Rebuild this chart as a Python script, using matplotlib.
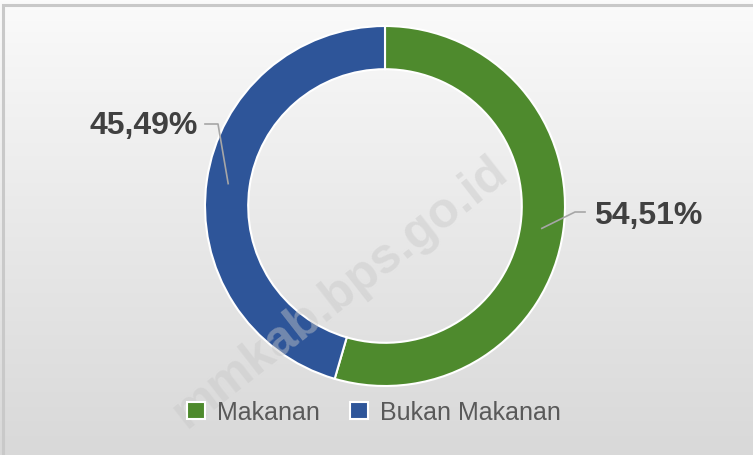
import numpy as np
import matplotlib
matplotlib.use("Agg")
import matplotlib.pyplot as plt
from matplotlib.patches import Rectangle

plt.rcParams['font.family'] = ['Liberation Sans', 'DejaVu Sans']

# data
labels = ["Makanan", "Bukan Makanan"]
values = [54.51, 45.49]
value_text = ["54,51%", "45,49%"]
colors = ["#4e8a2d", "#2e5599"]

W, H = 753, 456
fig = plt.figure(figsize=(W / 100, H / 100), dpi=100)
ax = fig.add_axes([0, 0, 1, 1])

# background gradient, light at top, grey at bottom
grad = np.linspace(0, 1, 256).reshape(-1, 1)
top = np.array([0.985, 0.985, 0.985])
bot = np.array([0.85, 0.85, 0.85])
img = top + (bot - top) * grad[..., None] ** 0.9
ax.imshow(img, extent=[0, W, 0, H], aspect='auto', zorder=0)
ax.add_patch(Rectangle((3.5, -10), W + 20, H - 5.5 + 10, fill=False,
                       edgecolor="#c9c9c9", lw=2.2, zorder=1))

cx, cy, R = 385, H - 207, 180
ring = 0.24
wedges, _ = ax.pie(values, colors=colors, startangle=90, counterclock=False,
                   center=(cx, cy), radius=R,
                   wedgeprops=dict(width=R * ring, edgecolor="white", linewidth=1.5))
for w in wedges:
    w.set_zorder(2)

# leader lines + labels
rmid = R * (1 - ring / 2)
text_pos = [(594, H - 216), (198, H - 126)]
elbow = [(575, H - 213), (218, H - 125)]
ends = [(585, H - 213), (205, H - 125)]
aligns = ["left", "right"]
for w, t, tp, el, en, ha in zip(wedges, value_text, text_pos, elbow, ends, aligns):
    ang = np.deg2rad((w.theta1 + w.theta2) / 2)
    px, py = cx + rmid * np.cos(ang), cy + rmid * np.sin(ang)
    ax.plot([px, el[0], en[0]], [py, el[1], en[1]], color="#a6a6a6", lw=1.2, zorder=3)
    ax.text(tp[0], tp[1], t, ha=ha, va="center", fontsize=23, fontweight="bold",
            color="#404040", zorder=4)

# watermark
ax.text(340, H - 292, "mmkab.bps.go.id", rotation=38, ha="center", va="center",
        fontsize=36, fontweight="bold", color="#c8c8c8", alpha=0.45, zorder=5)

# legend
leg = ax.legend(wedges, labels, loc="center", bbox_to_anchor=(0.497, 1 - 413 / H),
                ncol=2, frameon=False, fontsize=18, handlelength=0.7,
                handleheight=0.7, handletextpad=0.5, columnspacing=1.2,
                labelcolor="#595959")
for h in leg.legend_handles:
    h.set_edgecolor("white")

ax.set_xlim(0, W)
ax.set_ylim(0, H)
ax.set_aspect("auto")
ax.axis("off")
fig.savefig("out.png", dpi=100)
